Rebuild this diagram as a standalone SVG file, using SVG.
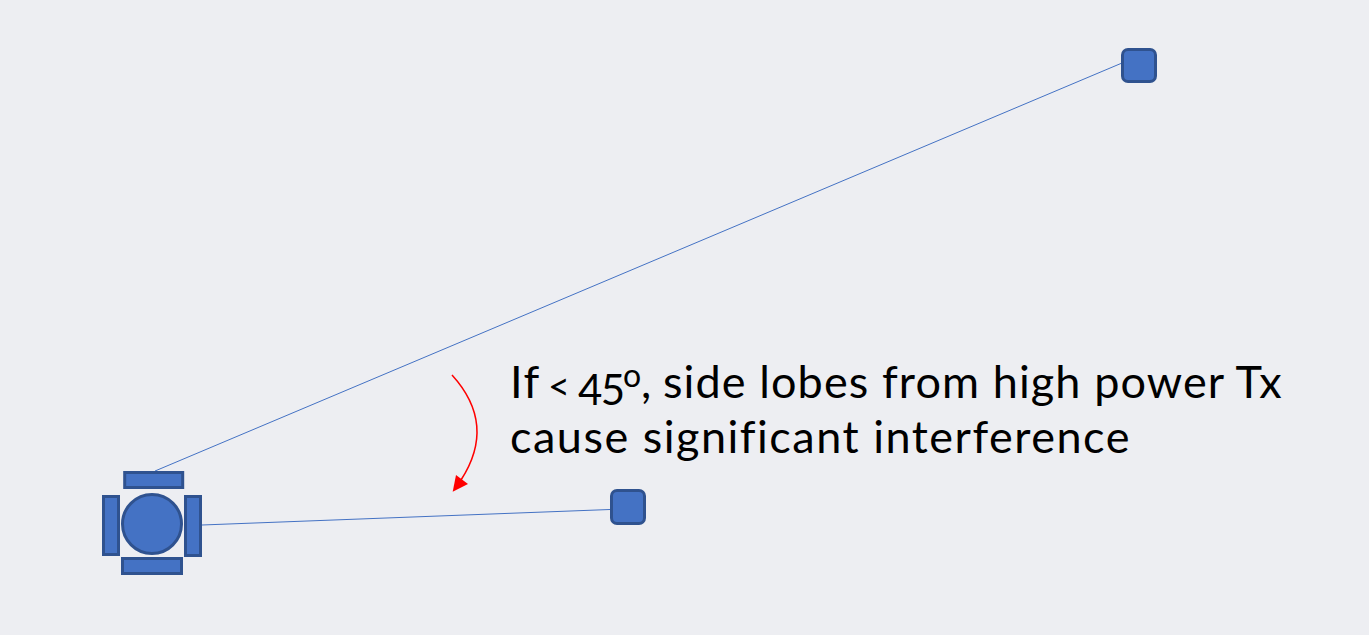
<svg xmlns="http://www.w3.org/2000/svg" width="1369" height="635" viewBox="0 0 1369 635">
<style>
.n{fill:#4472c4;stroke:#2f528f;stroke-width:3}
.l{fill:none;stroke:#4472c4;stroke-width:1}
.t{font-family:"Lato","Open Sans",sans-serif;font-size:45px;fill:#000;letter-spacing:1.5px}
</style>
<rect width="1369" height="635" fill="#edeef2"/>
<g id="connectors">
<line class="l" x1="155" y1="471" x2="1122" y2="63"/>
<line class="l" x1="202" y1="525" x2="610" y2="509.500"/>
<path d="M452 375C482 408 485 443 461 480" fill="none" stroke="#f00" stroke-width="1.500"/>
<polygon points="452.700,491.700 456,475 468,484" fill="#f00"/>
</g>
<g id="array">
<rect class="n" x="124.700" y="472.500" width="58" height="15"/>
<rect class="n" x="103.500" y="496.500" width="15" height="58"/>
<rect class="n" x="185.500" y="496.500" width="15" height="59"/>
<rect class="n" x="122.500" y="558.500" width="59" height="15"/>
<circle class="n" cx="152" cy="524" r="29.500"/>
</g>
<g id="node-far"><rect class="n" x="1122.500" y="49.500" width="33" height="32" rx="5.500"/></g>
<g id="node-near"><rect class="n" x="611.500" y="490.500" width="33" height="33" rx="5.500"/></g>
<g id="label">
<text class="t" x="510" y="398">If<tspan x="548" y="400" font-size="38">&lt;</tspan><tspan x="578" y="405" font-size="42" letter-spacing="-1.500">45</tspan><tspan x="623" y="387" font-size="32">o</tspan><tspan x="641" y="398">,</tspan><tspan x="663" y="398" letter-spacing="1.100">side lobes from high power Tx</tspan></text>
<text class="t" x="510" y="453" letter-spacing="1.430">cause significant interference</text>
</g>
</svg>
